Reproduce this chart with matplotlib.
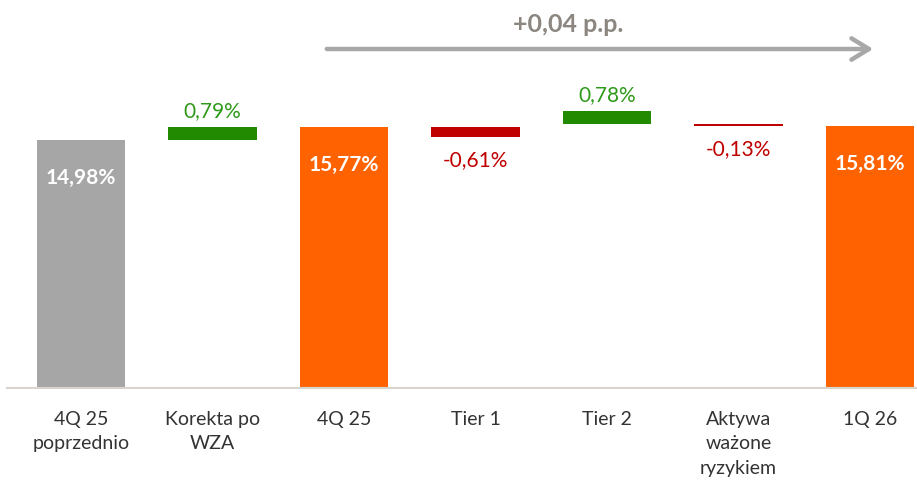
import matplotlib.pyplot as plt

plt.rcParams['font.family'] = ['Lato', 'DejaVu Sans']

# waterfall data (values in %)
categories = ['4Q 25\npoprzednio', 'Korekta po\nWZA', '4Q 25', 'Tier 1', 'Tier 2',
              'Aktywa\nważone\nryzykiem', '1Q 26']
heights = [14.98, 0.79, 15.77, 0.61, 0.78, 0.13, 15.81]
bottoms = [0, 14.98, 0, 15.16, 15.94, 15.81, 0]
labels = ['14,98%', '0,79%', '15,77%', '-0,61%', '0,78%', '-0,13%', '15,81%']
kinds = ['prev', 'up', 'total', 'down', 'up', 'down', 'total']

colors = {'prev': '#A6A6A6', 'total': '#FF6200', 'up': '#218A00', 'down': '#C00000'}
text_colors = {'up': '#2F9A1A', 'down': '#C00000'}

fig = plt.figure(figsize=(9.17, 4.85), dpi=100)
ax = fig.add_axes([0, 0.196, 1, 0.804])

x = list(range(len(categories)))
ax.bar(x, heights, bottom=bottoms, width=0.67,
       color=[colors[k] for k in kinds], zorder=2)

for i, (h, b, lab, k) in enumerate(zip(heights, bottoms, labels, kinds)):
    top = b + h
    if k in ('prev', 'total'):
        ax.annotate(lab, (i, top), xytext=(0, -27), textcoords='offset points',
                    ha='center', va='center', color='white', fontsize=15,
                    fontweight='bold')
    elif k == 'up':
        ax.annotate(lab, (i, top), xytext=(0, 12), textcoords='offset points',
                    ha='center', va='center', color=text_colors[k], fontsize=15)
    else:
        ax.annotate(lab, (i, b), xytext=(0, -16), textcoords='offset points',
                    ha='center', va='center', color=text_colors[k], fontsize=15)

ax.set_xlim(-0.616, 6.357)
ax.set_ylim(0, 23.44)
ax.axhline(0, xmin=8 / 917, xmax=1, color='#D9D4CC', lw=3, zorder=3)

ax.set_xticks(x)
ax.set_xticklabels(categories, fontsize=14, color='#333333', linespacing=1.55,
                   va='top')
ax.tick_params(axis='x', length=0, pad=15)
ax.set_yticks([])
for s in ax.spines.values():
    s.set_visible(False)

# overall change arrow
fig.patches.append(plt.matplotlib.patches.FancyArrowPatch(
    (324 / 917, 1 - 50 / 485), (876 / 917, 1 - 50 / 485),
    transform=fig.transFigure, arrowstyle='->,head_length=0.9,head_width=0.55',
    color='#A8A8A8', lw=3.2, mutation_scale=14))
fig.text(568 / 917, 1 - 24 / 485, '+0,04 p.p.', ha='center', va='center',
         fontsize=18, fontweight='bold', color='#8C8680')

fig.savefig('out.png', dpi=100)
